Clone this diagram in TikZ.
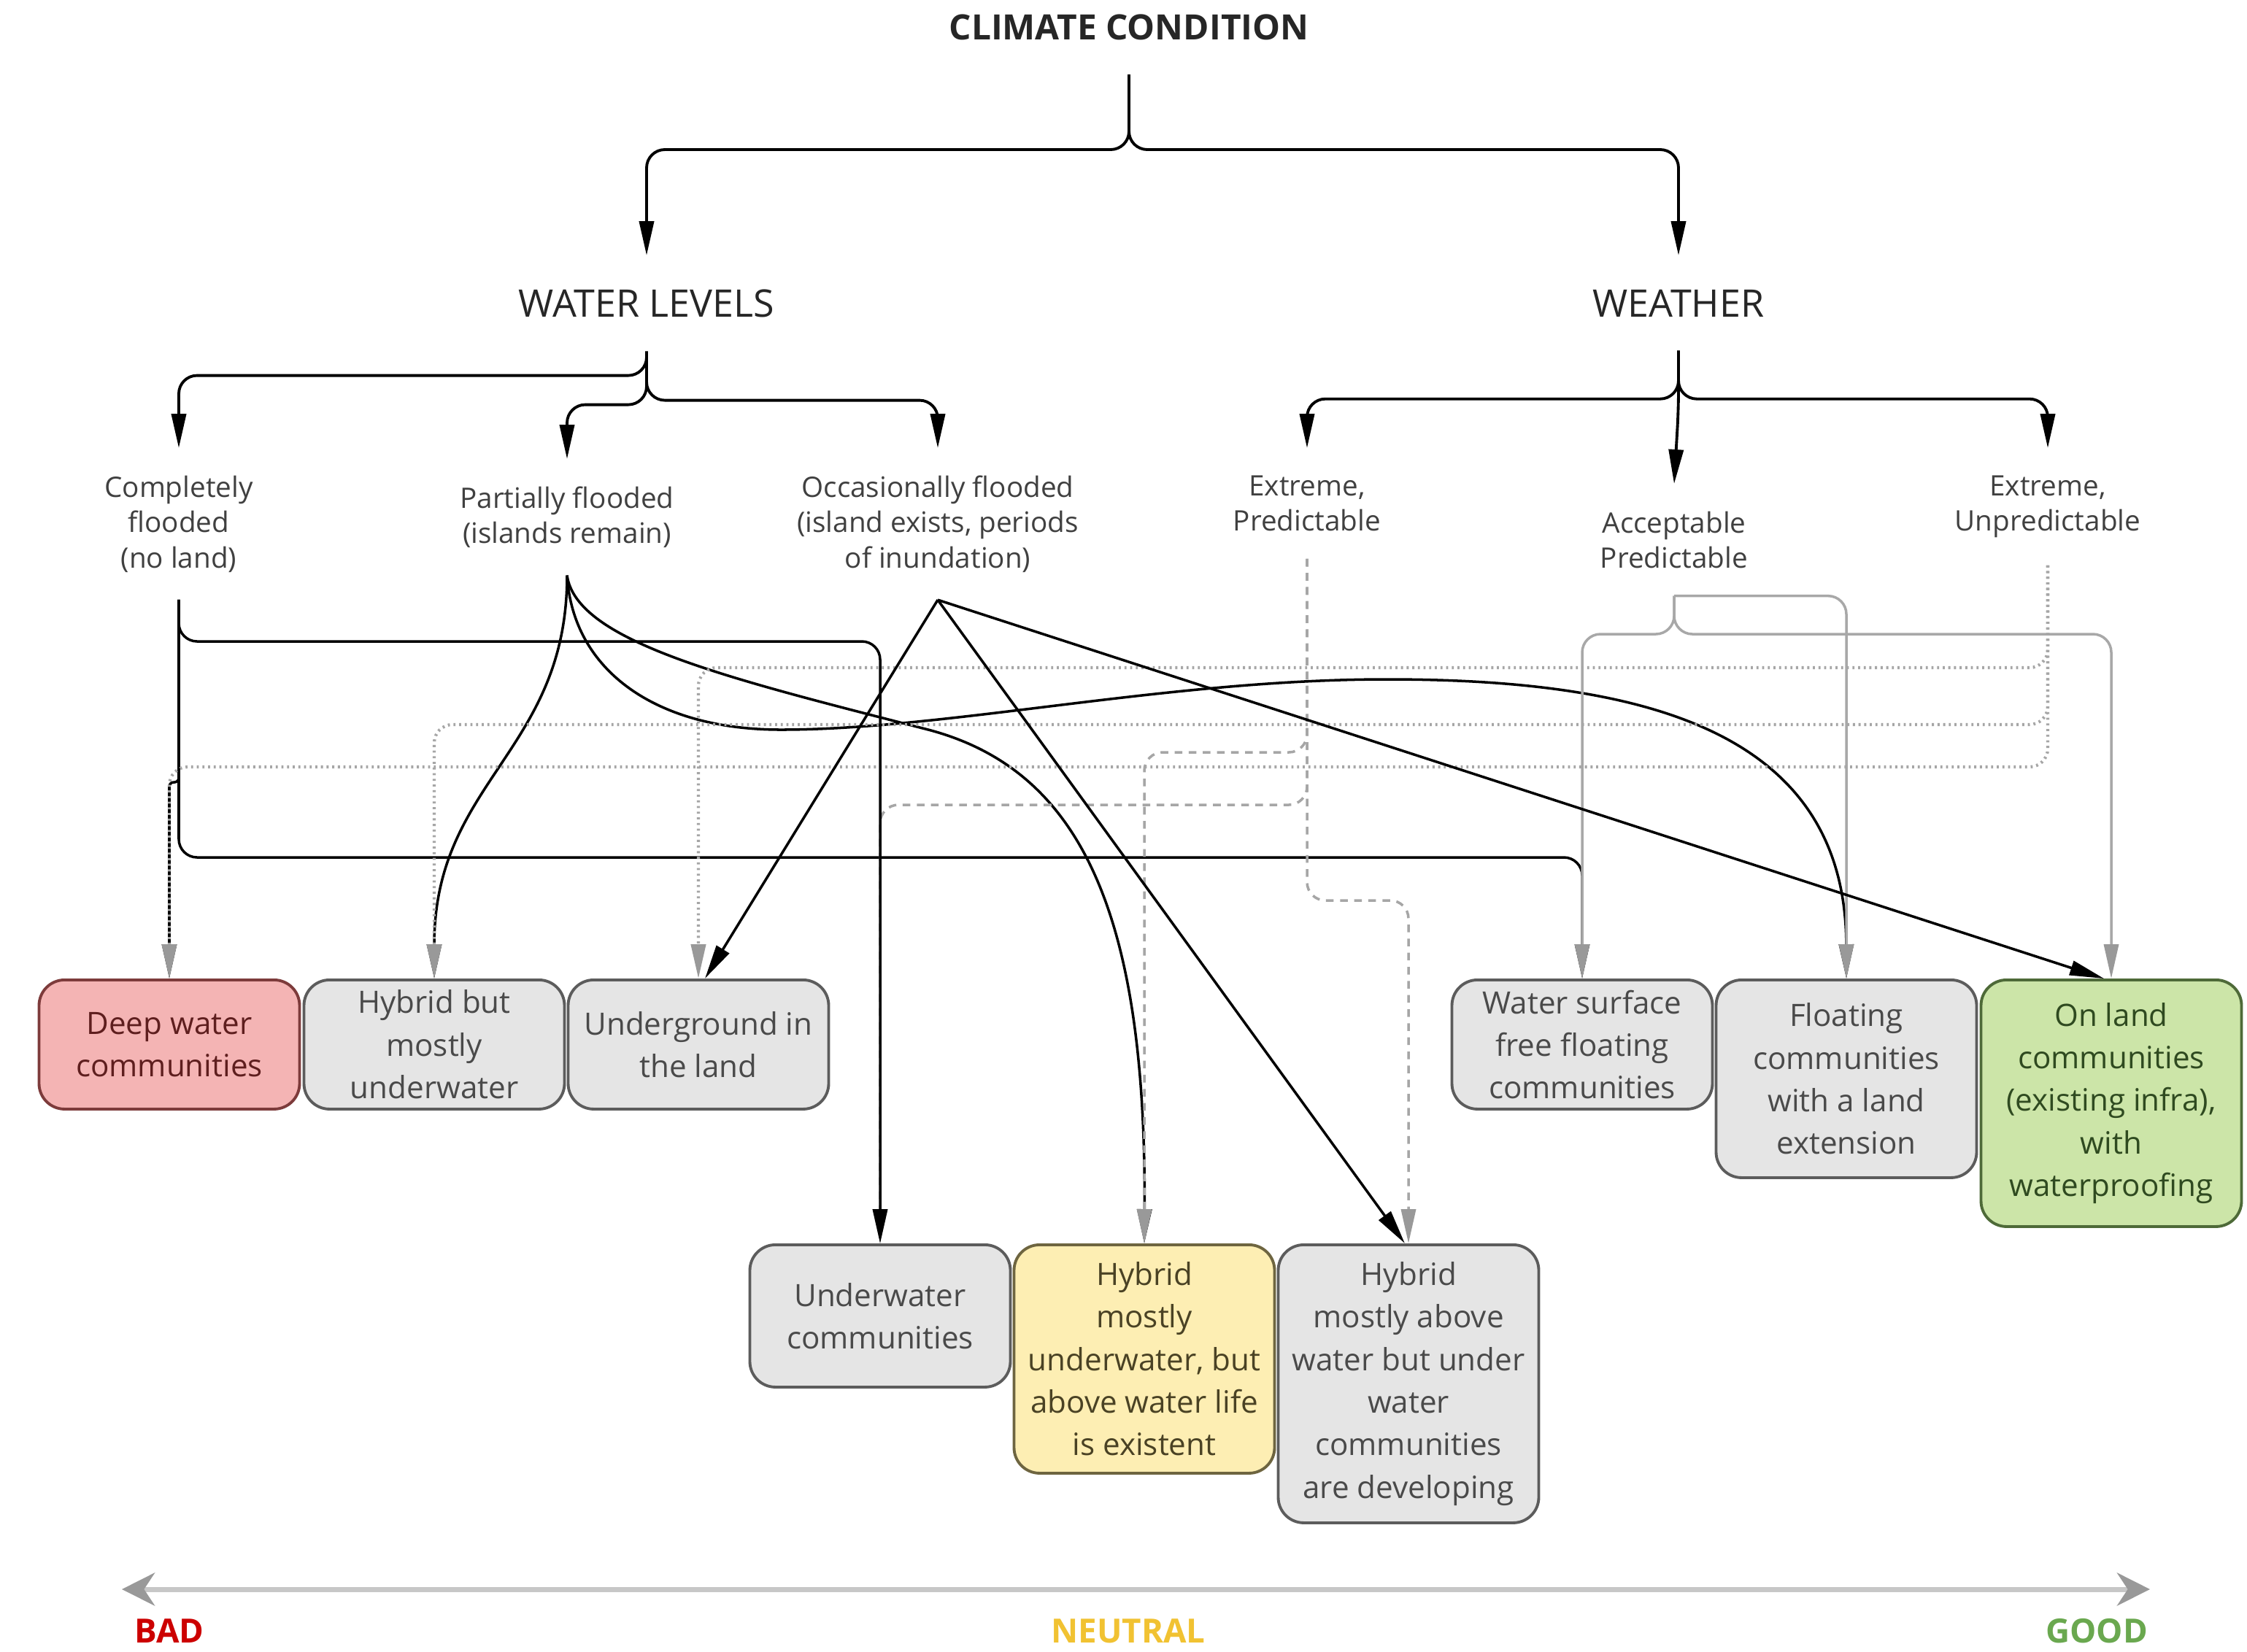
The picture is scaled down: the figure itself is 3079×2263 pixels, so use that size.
\documentclass[tikz,border=0pt]{standalone}
\usepackage{fontspec}
\setmainfont{Open Sans}
\usetikzlibrary{arrows.meta,positioning}

\definecolor{boxgray}{HTML}{E5E5E5}
\definecolor{boxline}{HTML}{5C5C5C}
\definecolor{boxtext}{HTML}{4A4A4A}
\definecolor{badfill}{HTML}{F4B4B4}
\definecolor{badline}{HTML}{7D3B3B}
\definecolor{badtext}{HTML}{5E1E1E}
\definecolor{neufill}{HTML}{FDEEB3}
\definecolor{neuline}{HTML}{6E6540}
\definecolor{neutext}{HTML}{4A4224}
\definecolor{goodfill}{HTML}{CCE5A8}
\definecolor{goodline}{HTML}{4E6A38}
\definecolor{goodtext}{HTML}{2F4A20}
\definecolor{linkgray}{HTML}{A8A8A8}
\definecolor{tipgray}{HTML}{999999}
\definecolor{dotgray}{HTML}{A6A6A6}
\definecolor{badred}{HTML}{CC0000}
\definecolor{neuyellow}{HTML}{F1C232}
\definecolor{goodgreen}{HTML}{6AA84F}

\begin{document}
\begin{tikzpicture}[x=0.1mm, y=-0.1mm,
    heading/.style={inner xsep=0pt, inner ysep=4.6mm, text=black!85,
        font=\fontsize{14.8}{17}\selectfont},
    lbl/.style={inner xsep=0pt, inner ysep=3.7mm, align=center, anchor=north,
        text=black!75, font=\fontsize{11}{13.8}\selectfont},
    comm/.style={draw=boxline, fill=boxgray, text=boxtext, line width=1.1pt,
        rounded corners=3.5mm, minimum width=35.7mm, inner xsep=0.5mm,
        inner ysep=0.3mm, align=center, anchor=north,
        font=\fontsize{12}{16.6}\selectfont},
    badbox/.style={comm, draw=badline, fill=badfill, text=badtext},
    neubox/.style={comm, draw=neuline, fill=neufill, text=neutext},
    goodbox/.style={comm, draw=goodline, fill=goodfill, text=goodtext},
    tree/.style={line width=1.1pt, rounded corners=2.5mm,
        -{Triangle[length=4.7mm,width=2mm]}},
    lvl/.style={line width=1pt, rounded corners=2.5mm,
        -{Triangle[length=4.7mm,width=2mm]}},
    wthr/.style={draw=linkgray, line width=1pt, rounded corners=2.5mm,
        -{Triangle[length=4.7mm,width=2mm,color=tipgray]}},
    dashlink/.style={wthr, draw=dotgray, dash pattern=on 3pt off 2.5pt},
    dotlink/.style={wthr, draw=dotgray, line width=1.2pt, dash pattern=on 0.8pt off 1.4pt},
    scalebar/.style={draw=black!22, line width=0.7mm,
        {Stealth[length=4.5mm,width=4.5mm,color=black!40]}-{Stealth[length=4.5mm,width=4.5mm,color=black!40]}},
    scalelbl/.style={font=\bfseries\fontsize{13}{15}\selectfont}]
\path[fill=white] (0,0) rectangle (3079,2263);
\useasboundingbox (0,0) rectangle (3079,2263);
% headings
\node (clim) [heading, anchor=south, font=\bfseries\fontsize{13.6}{15}\selectfont] at (1547,102) {CLIMATE CONDITION};
\node (wl)   [heading, anchor=north] at (886,350)  {WATER LEVELS};
\node (wea)  [heading, anchor=north] at (2300,350) {WEATHER};
%
\node (cf) [lbl] at (245,614)  {Completely\\flooded\\(no land)};
\node (pf) [lbl] at (777,629)  {Partially flooded\\(islands remain)};
\node (of) [lbl] at (1285,614) {Occasionally flooded\\(island exists, periods\\of inundation)};
\node (ep) [lbl] at (1791,614) {Extreme,\\Predictable};
\node (ap) [lbl] at (2294,663) {Acceptable\\Predictable};
\node (eu) [lbl] at (2806,614) {Extreme,\\Unpredictable};
% communities
\node (deep) [badbox, minimum height=17.7mm] at (232,1341)  {Deep water\\communities};
\node (hyb)  [comm, minimum height=17.7mm]   at (595,1341)  {Hybrid but\\mostly\\underwater};
\node (und)  [comm, minimum height=17.7mm]   at (957,1341)  {Underground in\\the land};
\node (ws)   [comm, minimum height=17.7mm]   at (2168,1341) {Water surface\\free floating\\communities};
\node (flo)  [comm, minimum height=27.1mm]   at (2530,1341) {Floating\\communities\\with a land\\extension};
\node (onl)  [goodbox, minimum height=33.8mm] at (2893,1341) {On land\\communities\\(existing infra),\\with\\waterproofing};
\node (uw)   [comm, minimum height=19.5mm]   at (1206,1704) {Underwater\\communities};
\node (hy2)  [neubox, minimum height=31.3mm] at (1568,1704) {Hybrid\\mostly\\underwater, but\\above water life\\is existent};
\node (hy3)  [comm, minimum height=38.1mm]   at (1930,1704) {Hybrid\\mostly above\\water but under\\water\\communities\\are developing};
%
\draw[tree] (clim.south) -- ++(0,103) -| (wl.north);
\draw[tree] (clim.south) -- ++(0,103) -| (wea.north);
\foreach \t/\d in {cf/33, pf/73, of/67}
    \draw[tree] (wl.south) -- ++(0,\d) -| (\t.north);
\foreach \t in {ep, eu}
    \draw[tree] (wea.south) -- ++(0,66) -| (\t.north);
\draw[tree] (wea.south) -- ++(0,80) -- (ap.north);
% water level links (under the weather links)
\draw[lvl, rounded corners=0.6mm] (cf.south) -- (cf.south |- 0,1072) -| (deep.north);
\draw[lvl] (cf.south) -- (cf.south |- 0,1175) -| (ws.north);
\draw[lvl, sharp corners] (pf.south) .. controls (777,1030) and (595,1070) .. (hyb.north);
\draw[lvl, sharp corners] (pf.south) .. controls (790,880) and (1000,930) .. (1272,1000)
    .. controls (1480,1055) and (1571,1250) .. (hy2.north);
\draw[lvl, sharp corners] (pf.south) .. controls (785,920) and (900,1000) .. (1070,1000)
    .. controls (1300,1000) and (1600,931) .. (1900,931)
    .. controls (2250,931) and (2529,1000) .. (flo.north);
% weather links
\draw[wthr] (ap.south) -| (flo.north);
\foreach \t in {ws, onl}
    \draw[wthr] (ap.south) -- (ap.south |- 0,869) -| (\t.north);
\foreach \t/\y in {uw/1103, hy2/1031, hy3/1234}
    \draw[dashlink] (ep.south) -- (ep.south |- 0,\y) -| (\t.north);
\foreach \t/\y in {und/915, hyb/993, deep/1051}
    \draw[dotlink] (eu.south) -- (eu.south |- 0,\y) -| (\t.north);
%
\draw[lvl] (cf.south) -- (cf.south |- 0,879) -| (uw.north);
\foreach \t/\s in {und/0.9mm, hy3/-0.5mm, onl/-1mm}
    \draw[lvl] (of.south) -- ([xshift=\s]\t.north);
% scale
\coordinate (lo) at (167,2178);
\coordinate (hi) at (2946,2178);
\draw[scalebar] (lo) -- (hi);
\node (badlbl)  [scalelbl, text=badred]    at (232,2235)  {BAD};
\node (neulbl)  [scalelbl, text=neuyellow] at (1546,2235) {NEUTRAL};
\node (goodlbl) [scalelbl, text=goodgreen] at (2873,2235) {GOOD};
\end{tikzpicture}
\end{document}
